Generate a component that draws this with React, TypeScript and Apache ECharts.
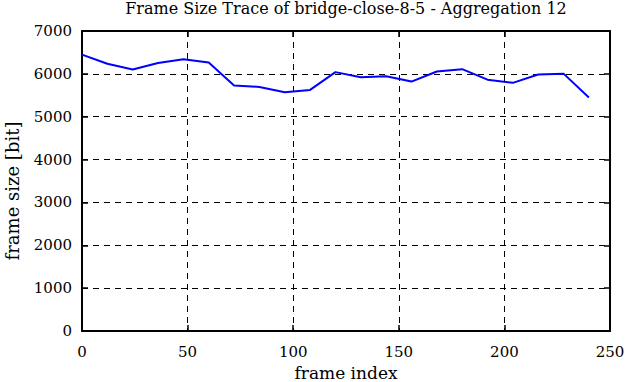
import React, { useEffect, useRef } from "react";
import * as echarts from "echarts";

const frameIndex = [0, 12, 24, 36, 48, 60, 72, 84, 96, 108, 120, 132, 144, 156, 168, 180, 192, 204, 216, 228, 240];
const frameSize = [6450, 6235, 6100, 6255, 6340, 6265, 5730, 5695, 5570, 5625, 6040, 5920, 5945, 5820, 6055, 6110, 5865, 5790, 5985, 6005, 5450];
const titleText = "Frame Size Trace of bridge-close-8-5 - Aggregation 12";
const xName = "frame index";
const yName = "frame size [bit]";

export default function App() {
  const ref = useRef<HTMLDivElement>(null);
  useEffect(() => {
    const chart = echarts.init(ref.current!, null, { renderer: "svg" });
    const font = "DejaVu Serif";
    const axisBase = {
      axisLine: { show: true, onZero: false, lineStyle: { color: "#000", width: 2 } },
      axisTick: { show: true, inside: true, length: 6, lineStyle: { color: "#000", width: 1.5 } },
    };
    const fmt = (v: number) => String(v);
    chart.setOption({
      animation: false,
      backgroundColor: "#fff",
      textStyle: { fontFamily: font, color: "#000" },
      title: {
        text: titleText,
        left: 346,
        textAlign: "center",
        top: 0,
        padding: 0,
        textStyle: { fontFamily: font, fontSize: 16, fontWeight: "normal", color: "#000" },
      },
      graphic: [
        {
          type: "text",
          x: 12,
          y: 191,
          rotation: Math.PI / 2,
          style: {
            text: yName,
            fontFamily: font,
            fontSize: 18,
            fill: "#000",
            textAlign: "center",
            textVerticalAlign: "middle",
          },
        },
      ],
      grid: { left: 82, top: 31, right: 16, bottom: 51, containLabel: false, outerBoundsMode: "none" },
      xAxis: [
        {
          type: "value",
          min: 0,
          max: 250,
          interval: 50,
          position: "bottom",
          ...axisBase,
          name: xName,
          nameLocation: "middle",
          nameGap: 33,
          nameTextStyle: { fontFamily: font, fontSize: 17, lineHeight: 17, color: "#000" },
          axisLabel: { fontFamily: font, fontSize: 15, color: "#000", margin: 13, formatter: fmt },
          splitLine: { show: true, lineStyle: { color: "#000", type: [6, 5], width: 1 } },
        },
        {
          type: "value",
          min: 0,
          max: 250,
          interval: 50,
          position: "top",
          ...axisBase,
          axisLabel: { show: false },
          splitLine: { show: false },
        },
      ],
      yAxis: [
        {
          type: "value",
          min: 0,
          max: 7000,
          interval: 1000,
          position: "left",
          ...axisBase,
          axisLabel: {
            fontFamily: font,
            fontSize: 15,
            color: "#000",
            margin: 10,
            padding: [8, 0, 0, 0],
            formatter: fmt,
          },
          splitLine: { show: true, lineStyle: { color: "#000", type: [6, 5], width: 1 } },
        },
        {
          type: "value",
          min: 0,
          max: 7000,
          interval: 1000,
          position: "right",
          ...axisBase,
          axisLabel: { show: false },
          splitLine: { show: false },
        },
      ],
      series: [
        {
          type: "line",
          data: frameIndex.map((x, i) => [x, frameSize[i]]),
          showSymbol: false,
          symbol: "none",
          lineStyle: { color: "#0000ff", width: 2 },
        },
      ],
    });
    return () => chart.dispose();
  }, []);
  return <div ref={ref} style={{ width: 626, height: 382, position: "absolute", left: 0, top: 0 }} />;
}
